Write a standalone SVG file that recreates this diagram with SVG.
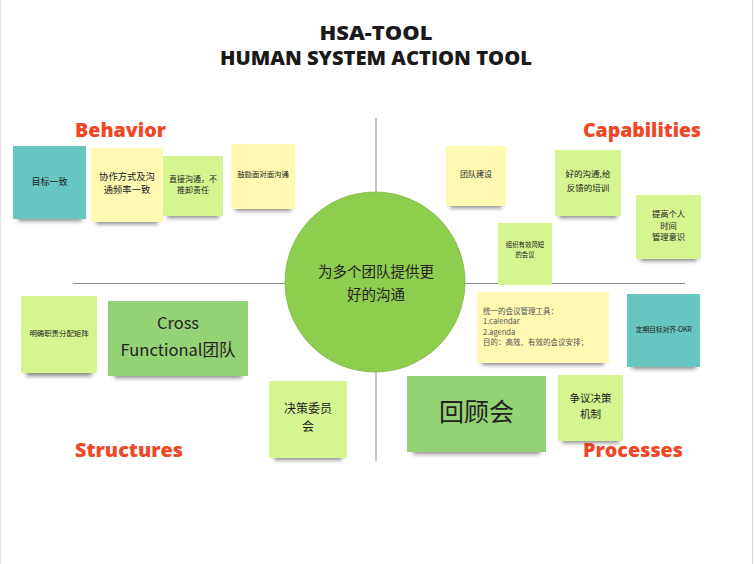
<svg xmlns="http://www.w3.org/2000/svg" width="754" height="564" viewBox="0 0 754 564">
<defs>
<filter id="blur" x="-20%" y="-100%" width="140%" height="300%"><feGaussianBlur stdDeviation="2.2"/></filter>
<style>
.sh{fill:#3a3a3a;opacity:.6;filter:url(#blur)}
.teal{fill:#67c6c0}
.yel{fill:#fff9b1}
.lg{fill:#d6f48f}
.gr{fill:#93d275}
.t{font-family:"Noto Sans CJK SC","Noto Sans",sans-serif;fill:#222;text-anchor:middle}
.tl{font-family:"Noto Sans CJK SC","Noto Sans",sans-serif;fill:#555;font-size:7.5px}
.lab{font-family:"Open Sans","Liberation Sans",sans-serif;font-weight:800;fill:#f24726;font-size:19px}
.title{font-family:"Open Sans","Liberation Sans",sans-serif;font-weight:800;fill:#1a1a1a;font-size:19px;text-anchor:middle}
.ax{stroke:#8a8a8a;stroke-width:1;fill:none}
</style>
</defs>
<rect width="754" height="564" fill="#ffffff"/>
<line x1="0.5" y1="0" x2="0.5" y2="564" stroke="#e6e6e6"/>
<line x1="752.5" y1="0" x2="752.5" y2="564" stroke="#d8d8d8"/>

<g id="title">
<text class="title" x="376" y="40" textLength="113" lengthAdjust="spacingAndGlyphs">HSA-TOOL</text>
<text class="title" x="376" y="65" textLength="312" lengthAdjust="spacingAndGlyphs">HUMAN SYSTEM ACTION TOOL</text>
</g>

<g id="connectors">
<line class="ax" x1="376" y1="118" x2="376" y2="461"/>
<line class="ax" x1="73" y1="283.5" x2="685" y2="283.5"/>
</g>

<g id="labels">
<text class="lab" x="75" y="137" textLength="91" lengthAdjust="spacingAndGlyphs">Behavior</text>
<text class="lab" x="583" y="137" textLength="118" lengthAdjust="spacingAndGlyphs">Capabilities</text>
<text class="lab" x="75" y="457" textLength="108" lengthAdjust="spacingAndGlyphs">Structures</text>
<text class="lab" x="583" y="457" textLength="100" lengthAdjust="spacingAndGlyphs">Processes</text>
</g>

<g id="center">
<circle cx="375" cy="282" r="90" fill="#8ece4e" stroke="#7cb543" stroke-width="0.8"/>
<text class="t" font-size="14.5" x="376" y="277">为多个团队提供更</text>
<text class="t" font-size="14.5" x="376" y="300">好的沟通</text>
</g>

<g id="n1">
<rect class="sh" x="18" y="211" width="64" height="10"/>
<rect class="teal" x="13" y="146" width="73" height="73"/>
<text class="t" font-size="9" x="49.5" y="185">目标一致</text>
</g>
<g id="n2">
<rect class="sh" x="96" y="214" width="62" height="10"/>
<rect class="yel" x="91" y="148" width="72" height="74"/>
<text class="t" font-size="9.3" x="127" y="180">协作方式及沟</text>
<text class="t" font-size="9.3" x="127" y="193">通频率一致</text>
</g>
<g id="n3">
<rect class="sh" x="167" y="208" width="52" height="10"/>
<rect class="lg" x="163" y="156" width="60" height="60"/>
<text class="t" font-size="8" x="193" y="182">直接沟通，不</text>
<text class="t" font-size="8" x="193" y="193">推卸责任</text>
</g>
<g id="n4">
<rect class="sh" x="235" y="201" width="56" height="10"/>
<rect class="yel" x="231" y="144" width="64" height="65"/>
<text class="t" font-size="7.4" x="263" y="177">鼓励面对面沟通</text>
</g>
<g id="n5">
<rect class="sh" x="450" y="198" width="52" height="10"/>
<rect class="yel" x="446" y="146" width="60" height="60"/>
<text class="t" font-size="8" x="476" y="177">团队建设</text>
</g>
<g id="n6">
<rect class="sh" x="559" y="208" width="58" height="10"/>
<rect class="lg" x="555" y="150" width="66" height="66"/>
<text class="t" font-size="8.5" x="588" y="177">好的沟通,给</text>
<text class="t" font-size="8.5" x="588" y="191">反馈的培训</text>
</g>
<g id="n7">
<rect class="sh" x="640" y="251" width="57" height="10"/>
<rect class="lg" x="636" y="195" width="65" height="64"/>
<text class="t" font-size="8.3" x="668.5" y="217">提高个人</text>
<text class="t" font-size="8.3" x="668.5" y="229">时间</text>
<text class="t" font-size="8.3" x="668.5" y="240">管理意识</text>
</g>
<g id="n8">
<rect class="lg" x="498" y="223" width="54" height="62"/>
<text class="t" font-size="6.4" x="525" y="247">组织有效简短</text>
<text class="t" font-size="6.4" x="525" y="257">的会议</text>
</g>
<g id="n9">
<rect class="sh" x="482" y="355" width="122" height="10"/>
<rect class="yel" x="477" y="292" width="132" height="71"/>
<text class="tl" x="483" y="314">统一的会议管理工具：</text>
<text class="tl" x="483" y="324">1.calendar</text>
<text class="tl" x="483" y="335">2.agenda</text>
<text class="tl" x="483" y="345">目的：高效、有效的会议安排；</text>
</g>
<g id="n10">
<rect class="sh" x="632" y="359" width="64" height="10"/>
<rect class="teal" x="627" y="294" width="73" height="73"/>
<text class="t" font-size="7" x="663.5" y="332" letter-spacing="-0.3">定期目标对齐-OKR</text>
</g>
<g id="n11">
<rect class="sh" x="26" y="366" width="66" height="10"/>
<rect class="lg" x="21" y="296" width="76" height="77"/>
<text class="t" font-size="7.4" x="59" y="336">明确职责分配矩阵</text>
</g>
<g id="n12">
<rect class="sh" x="114" y="368" width="128" height="10"/>
<rect class="gr" x="108" y="301" width="140" height="75"/>
<text class="t" font-size="16.5" x="178" y="329">Cross</text>
<text class="t" font-size="16.5" x="178" y="356">Functional团队</text>
</g>
<g id="n13">
<rect class="sh" x="274" y="450" width="68" height="10"/>
<rect class="lg" x="269" y="381" width="78" height="77"/>
<text class="t" font-size="12" x="308" y="413">决策委员</text>
<text class="t" font-size="12" x="308" y="431">会</text>
</g>
<g id="n14">
<rect class="sh" x="413" y="444" width="127" height="10"/>
<rect class="gr" x="407" y="376" width="139" height="76"/>
<text class="t" font-size="25" x="476.5" y="421">回顾会</text>
</g>
<g id="n15">
<rect class="sh" x="562" y="433" width="57" height="10"/>
<rect class="lg" x="558" y="375" width="65" height="66"/>
<text class="t" font-size="10.5" x="590.5" y="402">争议决策</text>
<text class="t" font-size="10.5" x="590.5" y="418">机制</text>
</g>
</svg>
